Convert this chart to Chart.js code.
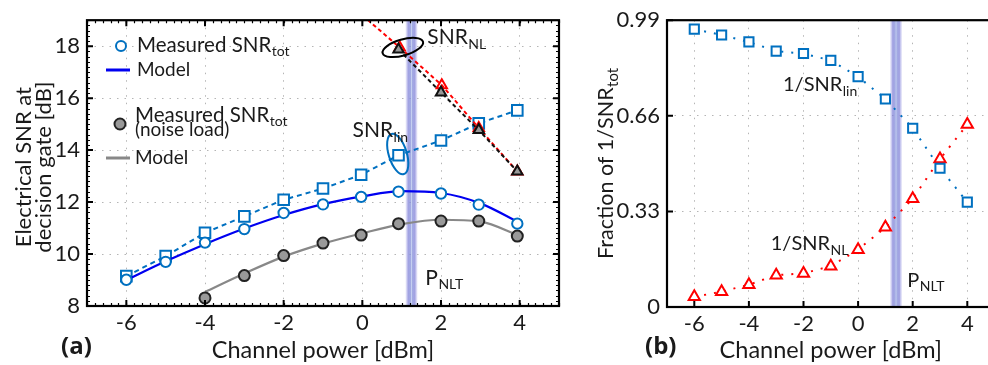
<!DOCTYPE html>
<html><head><meta charset="utf-8">
<script src="https://cdn.jsdelivr.net/npm/chart.js@4.4.1/dist/chart.umd.min.js"></script>
<style>
html,body{margin:0;padding:0;background:#fff;overflow:hidden;width:988px;height:365px;}
#wrap{position:relative;width:988px;height:365px;overflow:hidden;background:#fff;}
#c1{position:absolute;left:0;top:0;}
#c2{position:absolute;left:575px;top:0;}
</style></head><body>
<div id="wrap">
<canvas id="c1" width="570" height="365"></canvas>
<canvas id="c2" width="430" height="365"></canvas>
</div>
<script>
// ---------- DATA (panel a) ----------
const xPower = [-6, -5, -4, -3, -2, -1, -0.03, 0.92, 2, 2.96, 3.94];
const snrTotMeasured = [9.01, 9.70, 10.44, 10.96, 11.58, 11.91, 12.20, 12.40, 12.33, 11.90, 11.17];
const xModel = [-6, -5, -4, -3, -2, -1, 0, 1, 2, 3, 4];
const snrTotModel = [9.0, 9.72, 10.38, 10.98, 11.5, 11.92, 12.22, 12.42, 12.35, 11.95, 11.2];
const snrLin = [9.15, 9.92, 10.82, 11.45, 12.09, 12.52, 13.05, 13.80, 14.37, 15.03, 15.53];
const xNoise = [-4, -3, -2, -1, -0.03, 0.92, 2, 2.96, 3.94];
const snrNoiseMeasured = [8.31, 9.17, 9.94, 10.42, 10.73, 11.17, 11.27, 11.27, 10.69];
const xNoiseModel = [-4, -3, -2, -1, 0, 1, 2, 3, 4];
const snrNoiseModel = [8.54, 9.25, 9.9, 10.4, 10.8, 11.15, 11.32, 11.25, 10.7];
const xNL = [0.92, 2, 2.96, 3.94];
const snrNLMeasured = [17.87, 16.22, 14.77, 13.18];
const xNLRed = [0, 0.95, 2.02, 2.96, 3.94];
const snrNLRed = [19.19, 17.95, 16.5, 14.85, 13.18];
const xTicksA = [-6, -4, -2, 0, 2, 4];
const yTicksA = [8, 10, 12, 14, 16, 18];
const pNLT_a = 1.25;

// ---------- DATA (panel b) ----------
const xFrac = [-6, -5, -4, -3, -2, -1, 0, 1, 2, 3, 4];
const fracLin = [0.959, 0.939, 0.915, 0.883, 0.875, 0.851, 0.795, 0.718, 0.617, 0.479, 0.362];
const fracNL = [0.035, 0.053, 0.077, 0.110, 0.116, 0.141, 0.198, 0.275, 0.374, 0.511, 0.630];
const xTicksB = [-6, -4, -2, 0, 2, 4];
const yTicksB = [0, 0.33, 0.66, 0.99];
const yTickLabelsB = ['0', '0.33', '0.66', '0.99'];
const pNLT_b = 1.39;

const FONT = 'Lato, "Open Sans", sans-serif';
const BOLDFONT = '"Open Sans", "DejaVu Sans", sans-serif';
const BLUE = '#0070c0';
const TXT = '#1a1a1a';
const pts = (xs, ys) => xs.map((x, i) => ({x, y: ys[i]}));

function subText(ctx, x, y, main, sub, size, color, subSize, subDrop) {
  ctx.save();
  ctx.fillStyle = color || TXT;
  ctx.textBaseline = 'alphabetic';
  ctx.textAlign = 'left';
  ctx.font = size + 'px ' + FONT;
  ctx.fillText(main, x, y);
  const w = ctx.measureText(main).width;
  ctx.font = (subSize || Math.round(size * 0.68)) + 'px ' + FONT;
  ctx.fillText(sub, x + w + 0.5, y + (subDrop != null ? subDrop : size * 0.22));
  ctx.restore();
}

function drawBand(chart, val) {
  const {ctx, chartArea: {top, bottom}, scales: {x}} = chart;
  const px = x.getPixelForValue(val);
  const hw = 6;
  const g = ctx.createLinearGradient(px - hw, 0, px + hw, 0);
  g.addColorStop(0, 'rgba(175,175,235,0.2)');
  g.addColorStop(0.22, 'rgba(125,125,215,0.72)');
  g.addColorStop(0.42, 'rgba(140,150,220,0.8)');
  g.addColorStop(0.5, 'rgba(195,205,240,0.95)');
  g.addColorStop(0.58, 'rgba(140,150,220,0.8)');
  g.addColorStop(0.78, 'rgba(125,125,215,0.72)');
  g.addColorStop(1, 'rgba(175,175,235,0.2)');
  ctx.save();
  ctx.fillStyle = g;
  ctx.fillRect(px - hw, top, hw * 2, bottom - top);
  ctx.restore();
}

function drawFrame(chart, majX, majY, minorStep, sides) {
  const {ctx, chartArea: {left, right, top, bottom}, scales: {x, y}} = chart;
  ctx.save();
  ctx.strokeStyle = '#000';
  ctx.lineWidth = 1.2;
  ctx.beginPath();
  if (minorStep) {
    for (let i = Math.ceil(x.min / minorStep); i <= Math.floor(x.max / minorStep); i++) {
      const p = Math.round(x.getPixelForValue(i * minorStep)) + 0.5;
      ctx.moveTo(p, bottom); ctx.lineTo(p, bottom - 3);
      if (sides.top) { ctx.moveTo(p, top); ctx.lineTo(p, top + 3); }
    }
    for (let i = Math.ceil(y.min / minorStep); i <= Math.floor(y.max / minorStep); i++) {
      const p = Math.round(y.getPixelForValue(i * minorStep)) + 0.5;
      ctx.moveTo(left, p); ctx.lineTo(left + 3, p);
      if (sides.right) { ctx.moveTo(right, p); ctx.lineTo(right - 3, p); }
    }
  }
  ctx.stroke();
  ctx.lineWidth = 2;
  ctx.beginPath();
  majX.forEach(v => {
    const p = x.getPixelForValue(v);
    ctx.moveTo(p, bottom); ctx.lineTo(p, bottom - 6);
    if (sides.top) { ctx.moveTo(p, top); ctx.lineTo(p, top + 6); }
  });
  majY.forEach(v => {
    const p = y.getPixelForValue(v);
    ctx.moveTo(left, p); ctx.lineTo(left + 6, p);
    if (sides.right) { ctx.moveTo(right, p); ctx.lineTo(right - 6, p); }
  });
  ctx.stroke();
  ctx.lineWidth = 2.2;
  ctx.strokeRect(left, top, right - left, bottom - top);
  ctx.restore();
}

function baseScales(xmin, xmax, ymin, ymax, xt, yt, ylabels, xH, yW) {
  return {
    x: {
      type: 'linear', min: xmin, max: xmax,
      afterBuildTicks: s => { s.ticks = xt.map(v => ({value: v})); },
      afterFit: s => { s.height = xH; },
      grid: {color: '#b5b5b5', lineWidth: 1, drawTicks: false},
      border: {display: false, dash: [1.5, 6]},
      ticks: {font: {family: FONT, size: 22}, color: TXT, padding: 4, maxRotation: 0,
        callback: v => String(v)}
    },
    y: {
      type: 'linear', min: ymin, max: ymax,
      afterBuildTicks: s => { s.ticks = yt.map(v => ({value: v})); },
      afterFit: s => { s.width = yW; },
      grid: {color: '#b5b5b5', lineWidth: 1, drawTicks: false},
      border: {display: false, dash: [1.5, 6]},
      ticks: {font: {family: FONT, size: 22}, color: TXT, padding: 7,
        callback: (v) => ylabels ? ylabels[yt.indexOf(v)] : String(v)}
    }
  };
}

// ---------- Chart (a) ----------
const pluginA = {
  id: 'pa',
  beforeDatasetsDraw(chart) { drawBand(chart, pNLT_a); },
  afterDatasetsDraw(chart) {
    const {ctx, scales: {x, y}} = chart;
    ctx.save();
    ctx.lineWidth = 2;
    ctx.strokeStyle = '#000';
    ctx.beginPath();
    ctx.ellipse(x.getPixelForValue(1.03), y.getPixelForValue(17.95), 21, 8, -0.28, 0, Math.PI * 2);
    ctx.stroke();
    ctx.strokeStyle = BLUE;
    ctx.beginPath();
    ctx.ellipse(x.getPixelForValue(0.9), y.getPixelForValue(13.85), 9, 21, -0.3, 0, Math.PI * 2);
    ctx.stroke();
    ctx.restore();
    subText(ctx, x.getPixelForValue(1.65), y.getPixelForValue(18.1), 'SNR', 'NL', 21, TXT, 14, 5);
    subText(ctx, x.getPixelForValue(-0.25), y.getPixelForValue(14.5), 'SNR', 'lin', 21, TXT, 14, 5);
    subText(ctx, x.getPixelForValue(1.6), y.getPixelForValue(8.8), 'P', 'NLT', 21, TXT, 14, 4);
  },
  afterDraw(chart) {
    const {ctx} = chart;
    drawFrame(chart, xTicksA, yTicksA, 0.2, {top: true, right: true});
    ctx.save();
    // legend
    ctx.lineWidth = 2;
    ctx.strokeStyle = BLUE; ctx.fillStyle = '#fff';
    ctx.beginPath(); ctx.arc(121, 46, 5, 0, Math.PI * 2); ctx.fill(); ctx.stroke();
    ctx.lineWidth = 3; ctx.strokeStyle = '#0000f0';
    ctx.beginPath(); ctx.moveTo(106, 70); ctx.lineTo(130, 70); ctx.stroke();
    ctx.lineWidth = 2; ctx.strokeStyle = '#222'; ctx.fillStyle = '#999';
    ctx.beginPath(); ctx.arc(120, 124, 5.5, 0, Math.PI * 2); ctx.fill(); ctx.stroke();
    ctx.lineWidth = 3; ctx.strokeStyle = '#888';
    ctx.beginPath(); ctx.moveTo(106, 158); ctx.lineTo(130, 158); ctx.stroke();
    ctx.fillStyle = TXT;
    ctx.font = '19px ' + FONT;
    ctx.textBaseline = 'alphabetic';
    ctx.fillText('Model', 137, 76);
    ctx.fillText('(noise load)', 135, 136);
    ctx.fillText('Model', 135, 164);
    ctx.restore();
    subText(ctx, 137, 52, 'Measured SNR', 'tot', 20.5, TXT, 14, 4);
    subText(ctx, 135, 122, 'Measured SNR', 'tot', 20.5, TXT, 14, 4);
    // axis titles
    ctx.save();
    ctx.fillStyle = TXT;
    ctx.font = '23.5px ' + FONT;
    ctx.textAlign = 'center';
    ctx.textBaseline = 'alphabetic';
    const ca = chart.chartArea;
    ctx.fillText('Channel power [dBm]', (ca.left + ca.right) / 2, 358);
    ctx.font = '22px ' + FONT;
    ctx.save();
    ctx.translate(31, (ca.top + ca.bottom) / 2 + 4);
    ctx.rotate(-Math.PI / 2);
    ctx.fillText('Electrical SNR at', 0, 0);
    ctx.restore();
    ctx.save();
    ctx.translate(51, (ca.top + ca.bottom) / 2 + 4);
    ctx.rotate(-Math.PI / 2);
    ctx.fillText('decision gate [dB]', 0, 0);
    ctx.restore();
    ctx.font = 'bold 24px ' + BOLDFONT;
    ctx.textAlign = 'left';
    ctx.fillText('(a)', 61, 354);
    ctx.restore();
  }
};

new Chart(document.getElementById('c1'), {
  type: 'scatter',
  data: {
    datasets: [
      {data: pts(xPower, snrTotMeasured), showLine: false, pointStyle: 'circle', pointRadius: 5.2,
        borderColor: BLUE, backgroundColor: '#fff', borderWidth: 2},
      {data: pts(xModel, snrTotModel), showLine: true, pointRadius: 0, borderColor: '#0000f0',
        borderWidth: 2.2, tension: 0.4, cubicInterpolationMode: 'monotone'},
      {data: pts(xNL, snrNLMeasured), showLine: true, borderDash: [4, 3], pointStyle: 'triangle',
        pointRadius: 6, borderColor: '#111', backgroundColor: '#999', borderWidth: 2},
      {data: pts(xNLRed, snrNLRed), showLine: true, borderDash: [4, 3], pointStyle: 'triangle',
        pointRadius: [0, 6, 6, 6, 6], borderColor: '#ff0000', backgroundColor: 'rgba(0,0,0,0)', borderWidth: 2},
      {data: pts(xPower, snrLin), showLine: true, borderDash: [5, 4], pointStyle: 'rect', pointRadius: 7.5,
        borderColor: BLUE, backgroundColor: '#fff', borderWidth: 2},
      {data: pts(xNoise, snrNoiseMeasured), showLine: false, pointStyle: 'circle', pointRadius: 5.5,
        borderColor: '#222', backgroundColor: '#999', borderWidth: 2},
      {data: pts(xNoiseModel, snrNoiseModel), showLine: true, pointRadius: 0, borderColor: '#888',
        borderWidth: 2.2, tension: 0.4, cubicInterpolationMode: 'monotone'}
    ]
  },
  options: {
    responsive: false, animation: false,
    layout: {padding: {left: 0, top: 14, right: 11, bottom: 0}},
    plugins: {legend: {display: false}, tooltip: {enabled: false}},
    scales: baseScales(-7, 5, 8, 19, xTicksA, yTicksA, null, 59, 87)
  },
  plugins: [pluginA]
});

// ---------- Chart (b) ----------
const pluginB = {
  id: 'pb',
  beforeDatasetsDraw(chart) { drawBand(chart, pNLT_b); },
  afterDatasetsDraw(chart) {
    const {ctx, scales: {x, y}} = chart;
    subText(ctx, x.getPixelForValue(-2.75), y.getPixelForValue(0.745), '1/SNR', 'lin', 20, TXT, 14, 5);
    subText(ctx, x.getPixelForValue(-3.2), y.getPixelForValue(0.197), '1/SNR', 'NL', 20, TXT, 14, 5);
    subText(ctx, x.getPixelForValue(1.8), y.getPixelForValue(0.07), 'P', 'NLT', 20, TXT, 14, 4);
  },
  afterDraw(chart) {
    const {ctx} = chart;
    drawFrame(chart, xTicksB, yTicksB, 0, {top: false, right: false});
    const ca = chart.chartArea;
    ctx.save();
    ctx.fillStyle = TXT;
    ctx.font = '23.5px ' + FONT;
    ctx.textAlign = 'center';
    ctx.fillText('Channel power [dBm]', (ca.left + ca.right) / 2, 358);
    ctx.font = 'bold 24px ' + BOLDFONT;
    ctx.textAlign = 'left';
    ctx.fillText('(b)', 70, 354);
    ctx.restore();
    // rotated y title with subscript
    const main = 'Fraction of 1/SNR';
    ctx.save();
    ctx.font = '21.5px ' + FONT;
    const w1 = ctx.measureText(main).width;
    ctx.font = '15px ' + FONT;
    const w2 = ctx.measureText('tot').width;
    ctx.translate(38, (ca.top + ca.bottom) / 2);
    ctx.rotate(-Math.PI / 2);
    subText(ctx, -(w1 + w2) / 2, 0, main, 'tot', 21.5, TXT, 15, 5);
    ctx.restore();
  }
};

new Chart(document.getElementById('c2'), {
  type: 'scatter',
  data: {
    datasets: [
      {data: pts(xFrac, fracLin), showLine: true, borderDash: [2, 8], pointStyle: 'rect', pointRadius: 6.5,
        borderColor: BLUE, backgroundColor: '#fff', borderWidth: 2},
      {data: pts(xFrac, fracNL), showLine: true, borderDash: [2, 8], pointStyle: 'triangle', pointRadius: 6.5,
        borderColor: '#ff0000', backgroundColor: '#fff', borderWidth: 2}
    ]
  },
  options: {
    responsive: false, animation: false,
    layout: {padding: {left: 0, top: 10, right: 10.4, bottom: 0}},
    plugins: {legend: {display: false}, tooltip: {enabled: false}},
    scales: baseScales(-7, 5, 0, 0.99, xTicksB, yTicksB, yTickLabelsB, 58, 92)
  },
  plugins: [pluginB]
});
</script>
</body></html>
